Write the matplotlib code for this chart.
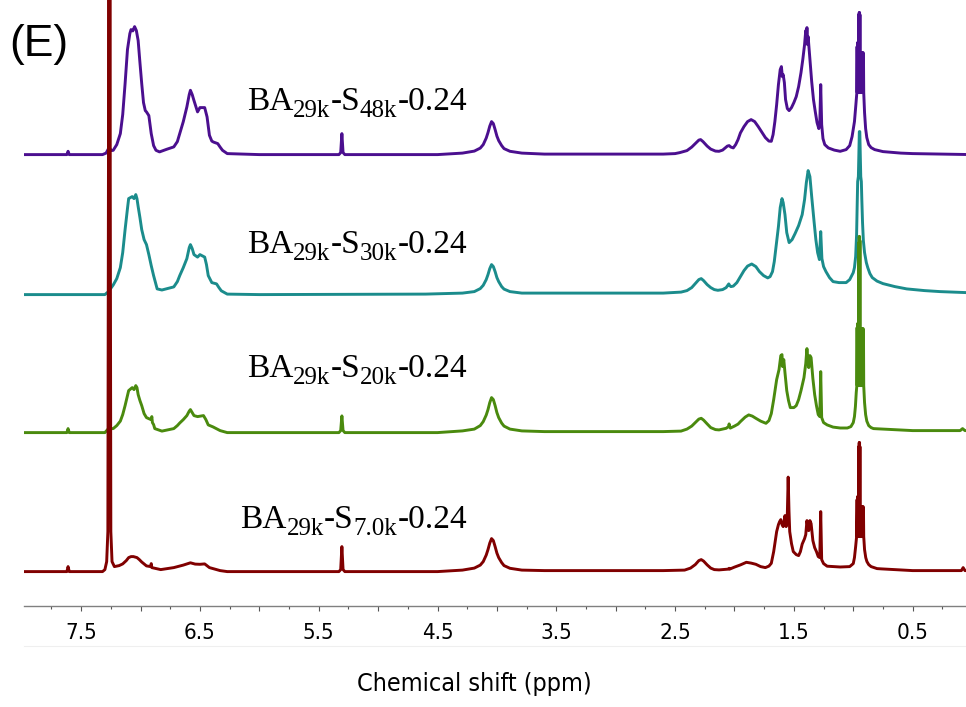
import matplotlib
matplotlib.use("Agg")
import matplotlib.pyplot as plt
from matplotlib.transforms import IdentityTransform
from matplotlib.lines import Line2D

plt.rcParams["path.simplify"] = False

# ---------------- data: (ppm, height above the trace baseline) ----------------
purple_points = [
    (8.00, 0), (7.62, 0), (7.61, 3.3), (7.60, 0), (7.32, 0), (7.29, 1.5), (7.265, 7), (7.245, 4),
    (7.23, 4.3), (7.20, 10), (7.17, 21), (7.15, 40), (7.13, 71), (7.11, 105), (7.09, 121), (7.08, 125),
    (7.065, 123.7), (7.05, 128), (7.035, 124), (7.02, 114), (7.005, 92), (6.99, 71), (6.975, 52),
    (6.96, 44), (6.95, 42.7), (6.93, 39), (6.91, 21), (6.89, 9), (6.87, 4.3), (6.84, 2.7), (6.78, 5.3),
    (6.72, 7.7), (6.69, 13), (6.67, 21), (6.64, 33), (6.61, 47.7), (6.59, 60), (6.58, 64.3),
    (6.565, 60), (6.55, 54), (6.52, 42.7), (6.50, 47), (6.46, 47), (6.44, 37.7), (6.42, 19.3),
    (6.40, 13.5), (6.385, 12.5), (6.35, 11), (6.33, 7.5), (6.31, 4.3), (6.27, 1), (6.00, 0),
    (5.33, 0), (5.315, 2), (5.305, 21), (5.295, 2), (5.28, 0), (4.50, 0), (4.29, 1.5), (4.19, 3.5),
    (4.14, 6.5), (4.115, 10), (4.09, 16.5), (4.075, 22), (4.06, 28.5), (4.045, 33), (4.03, 31),
    (4.015, 25), (4.00, 18.5), (3.985, 14), (3.96, 9), (3.94, 6), (3.89, 3.3), (3.79, 1.5),
    (3.60, 0.5), (2.60, 0.5), (2.50, 1), (2.46, 2), (2.40, 4), (2.36, 7.5), (2.33, 11), (2.30, 14.5),
    (2.285, 15), (2.265, 13), (2.23, 8.5), (2.20, 5.5), (2.16, 3.5), (2.13, 3.3), (2.10, 4.5),
    (2.06, 8.5), (2.045, 9), (2.03, 7.5), (2.01, 6.7), (1.99, 10), (1.97, 15), (1.95, 21.7),
    (1.92, 28), (1.89, 33), (1.86, 35), (1.83, 33), (1.80, 28), (1.77, 22.5), (1.74, 17),
    (1.71, 13.5), (1.69, 13.3), (1.675, 20), (1.66, 33), (1.645, 50), (1.63, 70), (1.615, 85),
    (1.605, 88), (1.597, 78), (1.59, 80), (1.58, 72), (1.57, 55), (1.555, 46), (1.54, 44),
    (1.52, 47), (1.50, 52), (1.48, 58), (1.46, 68), (1.44, 82), (1.425, 95), (1.41, 110),
    (1.40, 124), (1.395, 112), (1.39, 127), (1.385, 110), (1.38, 118), (1.37, 103), (1.35, 73),
    (1.335, 55), (1.32, 43), (1.305, 32), (1.29, 26), (1.282, 30), (1.274, 70), (1.266, 30),
    (1.255, 16), (1.24, 10), (1.21, 6.7), (1.16, 4.5), (1.11, 3.3), (1.06, 5), (1.03, 9),
    (1.01, 18), (0.99, 33), (0.978, 50), (0.970, 62),
    (0.968, 108), (0.966, 62), (0.964, 112), (0.962, 62), (0.960, 110), (0.958, 62), (0.956, 112),
    (0.955, 62), (0.953, 140), (0.952, 62), (0.950, 142), (0.949, 62), (0.947, 142), (0.946, 62),
    (0.944, 140), (0.943, 62), (0.941, 102), (0.939, 62), (0.937, 100), (0.935, 62), (0.933, 102),
    (0.931, 62), (0.929, 100), (0.927, 62), (0.925, 102), (0.923, 62), (0.921, 100), (0.919, 62),
    (0.917, 102), (0.915, 62), (0.914, 98), (0.912, 62),
    (0.905, 42), (0.896, 26), (0.886, 17), (0.87, 10), (0.85, 7), (0.82, 5), (0.75, 3), (0.60, 1.5),
    (0.50, 1), (0.00, 0)]

teal_points = [
    (8.00, 0), (7.30, 0), (7.27, 3), (7.23, 9.6), (7.20, 16), (7.17, 27), (7.15, 42), (7.13, 65),
    (7.11, 86), (7.10, 96), (7.07, 98), (7.055, 96), (7.04, 100), (7.03, 96), (7.02, 88),
    (7.005, 77), (6.99, 65), (6.97, 55), (6.95, 50), (6.93, 40), (6.91, 29), (6.89, 19), (6.86, 5.7),
    (6.82, 4.6), (6.72, 7.7), (6.69, 13), (6.67, 19), (6.64, 27), (6.61, 36), (6.59, 47), (6.58, 50),
    (6.565, 46), (6.55, 40), (6.52, 37.5), (6.50, 40), (6.46, 37.5), (6.445, 30), (6.43, 19),
    (6.40, 12), (6.36, 10.7), (6.34, 7), (6.32, 3.8), (6.27, 0.5), (6.00, 0), (4.60, 0.5),
    (4.29, 1.5), (4.19, 3), (4.14, 6), (4.115, 9.3), (4.09, 15), (4.075, 20), (4.06, 26),
    (4.045, 30), (4.03, 28), (4.015, 23), (4.00, 17), (3.985, 13), (3.96, 8), (3.94, 5.5),
    (3.89, 3), (3.79, 1.5), (3.60, 1.5), (2.60, 1.5), (2.45, 2.5), (2.40, 4), (2.36, 7), (2.33, 11),
    (2.30, 15), (2.28, 16), (2.26, 14), (2.23, 10), (2.20, 7), (2.17, 5), (2.14, 4.3), (2.10, 5),
    (2.07, 7), (2.048, 10.7), (2.04, 9), (2.03, 8), (2.01, 8.5), (1.98, 12), (1.95, 18), (1.92, 24),
    (1.89, 28.5), (1.855, 30.6), (1.82, 28), (1.79, 23), (1.755, 19), (1.72, 16.7), (1.70, 18),
    (1.68, 23), (1.665, 33), (1.645, 53), (1.63, 68), (1.615, 87), (1.60, 96), (1.59, 92),
    (1.575, 80), (1.56, 62), (1.54, 52), (1.515, 55), (1.49, 61), (1.46, 69), (1.43, 80),
    (1.41, 95), (1.395, 112), (1.38, 124), (1.365, 118), (1.35, 98), (1.33, 73), (1.315, 55),
    (1.30, 42), (1.285, 35), (1.274, 63), (1.264, 36), (1.25, 28), (1.23, 23), (1.20, 17),
    (1.17, 13), (1.12, 12), (1.06, 12), (1.03, 15), (1.00, 22), (0.99, 27), (0.98, 38),
    (0.972, 60), (0.967, 90), (0.963, 113), (0.957, 118), (0.953, 140), (0.949, 163), (0.945, 163),
    (0.941, 140), (0.937, 118), (0.932, 113), (0.928, 95), (0.922, 72), (0.915, 54), (0.905, 42),
    (0.89, 32), (0.878, 27), (0.86, 21), (0.84, 17), (0.80, 13.5), (0.75, 11), (0.65, 8),
    (0.55, 5.7), (0.40, 4), (0.27, 3), (0.05, 2), (0.00, 2)]

green_points = [
    (8.00, 0), (7.62, 0), (7.61, 4), (7.60, 0), (7.30, 0), (7.27, 4), (7.23, 4), (7.20, 7),
    (7.17, 11.5), (7.15, 18), (7.13, 27), (7.11, 37), (7.10, 42), (7.07, 45), (7.055, 43), (7.04, 47),
    (7.03, 45), (7.02, 38), (7.005, 32), (6.99, 27), (6.97, 19), (6.95, 15), (6.92, 13.4), (6.91, 13),
    (6.905, 16), (6.90, 10), (6.89, 8), (6.88, 4), (6.82, 1.5), (6.72, 4), (6.69, 7), (6.67, 9.6),
    (6.64, 13), (6.61, 17), (6.59, 21.5), (6.58, 23), (6.565, 20), (6.55, 17), (6.52, 16),
    (6.47, 17), (6.45, 13), (6.43, 7.7), (6.39, 5.7), (6.33, 2), (6.27, 0), (5.33, 0), (5.315, 2),
    (5.305, 16.7), (5.295, 2), (5.28, 0), (4.50, 0), (4.29, 1.7), (4.19, 3.5), (4.14, 7),
    (4.115, 11), (4.09, 17.5), (4.075, 23), (4.06, 30), (4.045, 35), (4.03, 33), (4.015, 27),
    (4.00, 20), (3.985, 15), (3.96, 9.5), (3.94, 6.5), (3.89, 3.5), (3.79, 1.7), (3.60, 1),
    (2.60, 1), (2.45, 1.5), (2.40, 3.5), (2.36, 6.5), (2.33, 10), (2.30, 13.5), (2.28, 14.3),
    (2.26, 12.5), (2.23, 8.7), (2.20, 5), (2.16, 3), (2.13, 2.7), (2.07, 4.3), (2.05, 6),
    (2.045, 8.7), (2.04, 6), (2.035, 4.5), (2.00, 6.5), (1.97, 8.5), (1.95, 11), (1.91, 15.5),
    (1.88, 17.7), (1.85, 16.5), (1.82, 14.3), (1.78, 11.5), (1.735, 9.3), (1.71, 12), (1.69, 19),
    (1.67, 33), (1.645, 53), (1.625, 63), (1.61, 77), (1.60, 78), (1.595, 66), (1.585, 73),
    (1.575, 60), (1.56, 42), (1.545, 32), (1.53, 25), (1.50, 25), (1.48, 27), (1.46, 33),
    (1.44, 42), (1.415, 55), (1.40, 69), (1.39, 84), (1.38, 70), (1.375, 65), (1.365, 77),
    (1.355, 75), (1.34, 54), (1.325, 38), (1.31, 27), (1.295, 18), (1.282, 16), (1.274, 61),
    (1.266, 15), (1.25, 10), (1.22, 7.7), (1.17, 5.5), (1.11, 4.6), (1.05, 4.6), (1.02, 6),
    (1.00, 10), (0.99, 16), (0.982, 26), (0.975, 40), (0.970, 47),
    (0.968, 105), (0.966, 47), (0.964, 109), (0.962, 47), (0.960, 108), (0.958, 47), (0.956, 109),
    (0.955, 47), (0.953, 190), (0.952, 47), (0.950, 196), (0.949, 47), (0.947, 196), (0.946, 47),
    (0.944, 192), (0.943, 47), (0.941, 104), (0.939, 47), (0.937, 102), (0.935, 47), (0.933, 104),
    (0.931, 47), (0.929, 102), (0.927, 47), (0.925, 104), (0.923, 47), (0.921, 102), (0.919, 47),
    (0.917, 104), (0.915, 47), (0.914, 100), (0.912, 47),
    (0.905, 30), (0.896, 18), (0.886, 11.5), (0.87, 7), (0.85, 5), (0.83, 4), (0.50, 2),
    (0.10, 2), (0.08, 4), (0.06, 2), (0.00, 2)]

red_points = [
    (8.00, 0), (7.62, 0), (7.61, 5), (7.60, 0), (7.32, 0), (7.30, 2), (7.285, 10), (7.275, 40),
    (7.27, 400), (7.268, 1500), (7.257, 1500), (7.255, 400), (7.25, 40), (7.24, 10), (7.22, 5),
    (7.18, 6), (7.15, 7.7), (7.12, 11), (7.10, 14), (7.08, 15), (7.06, 15), (7.03, 14), (7.01, 12),
    (6.99, 9.6), (6.95, 5.7), (6.915, 5), (6.91, 8), (6.905, 4), (6.83, 2), (6.72, 4), (6.64, 6.5),
    (6.58, 8.8), (6.54, 7.5), (6.50, 7.3), (6.46, 7.7), (6.42, 4), (6.33, 1), (6.27, 0), (5.33, 0),
    (5.315, 2), (5.305, 25), (5.295, 2), (5.28, 0), (4.50, 0), (4.29, 1.5), (4.19, 3.5),
    (4.14, 6.5), (4.115, 10), (4.09, 16.5), (4.075, 22), (4.06, 28.5), (4.045, 33), (4.03, 31),
    (4.015, 25), (4.00, 18.5), (3.985, 14), (3.96, 9), (3.94, 6), (3.89, 3.3), (3.79, 1.5),
    (3.60, 1), (2.60, 1), (2.42, 1.5), (2.37, 3.5), (2.33, 7), (2.30, 11), (2.28, 12),
    (2.26, 10.5), (2.23, 6.7), (2.20, 3.5), (2.17, 2), (2.13, 1.7), (2.05, 2.5), (2.045, 3.3),
    (2.04, 2.5), (2.00, 4.5), (1.95, 6.7), (1.90, 9.3), (1.86, 8.5), (1.82, 7.3), (1.78, 5),
    (1.74, 4), (1.71, 5.5), (1.69, 8.3), (1.67, 20), (1.645, 40), (1.63, 47), (1.62, 50),
    (1.61, 52), (1.60, 47), (1.59, 45), (1.58, 52), (1.575, 56), (1.565, 45), (1.555, 58),
    (1.548, 94.5), (1.541, 60), (1.535, 40), (1.52, 28), (1.505, 20), (1.48, 17), (1.46, 16),
    (1.445, 20), (1.43, 27.5), (1.41, 33), (1.40, 37), (1.39, 51), (1.38, 42), (1.375, 41),
    (1.365, 51), (1.355, 48), (1.34, 31), (1.325, 24), (1.31, 20), (1.295, 15), (1.282, 14),
    (1.274, 60), (1.266, 12), (1.25, 8), (1.22, 5.4), (1.11, 4.6), (1.03, 5), (1.00, 8),
    (0.99, 14), (0.98, 25), (0.972, 35),
    (0.968, 72), (0.966, 35), (0.964, 75), (0.962, 35), (0.960, 74), (0.958, 35), (0.956, 75),
    (0.955, 35), (0.953, 125), (0.952, 35), (0.950, 129), (0.949, 35), (0.947, 129), (0.946, 35),
    (0.944, 125), (0.943, 35), (0.941, 65), (0.939, 35), (0.937, 64), (0.935, 35), (0.933, 65),
    (0.931, 35), (0.929, 64), (0.927, 35), (0.925, 65), (0.923, 35), (0.921, 64), (0.919, 35),
    (0.917, 65), (0.915, 35), (0.914, 62), (0.912, 35),
    (0.905, 22), (0.895, 14), (0.885, 10), (0.87, 7), (0.85, 5), (0.80, 3), (0.76, 2.7),
    (0.50, 1), (0.09, 1), (0.075, 4), (0.06, 1), (0.00, 1)]

trace_offsets = [451, 311, 173, 34]
trace_colors = ["#4b0f8f", "#1b8c8c", "#4a8a0e", "#800000"]

label_prefix = "BA"
label_sub_a = "29k"
label_mid = "-S"
label_sub_b = ["48k", "30k", "20k", "7.0k"]
label_suffix = "-0.24"
label_baselines_px = [110, 253, 377, 528]

tick_positions = [7.5, 7.0, 6.5, 6.0, 5.5, 5.0, 4.5, 4.0, 3.5, 3.0, 2.5, 2.0, 1.5, 1.0, 0.5]
tick_labels = ["7.5", "", "6.5", "", "5.5", "", "4.5", "", "3.5", "", "2.5", "", "1.5", "", "0.5"]
minor_positions = [7.75, 7.25, 6.75, 6.25, 5.75, 5.25, 4.75, 4.25, 3.75, 3.25, 2.75, 2.25,
                   1.75, 1.25, 0.75, 0.25]

panel_tag = "(E)"
x_title = "Chemical shift (ppm)"

# ---------------- figure ----------------
W, H = 966, 707
fig = plt.figure(figsize=(W / 100, H / 100), dpi=100)
axis_y_px = 605.6
ax = fig.add_axes([24 / W, 1 - axis_y_px / H, 1 - 24 / W, axis_y_px / H])
ax.set_xlim(7.981, 0.051)
ax.set_ylim(0, axis_y_px)

traces = [purple_points, teal_points, green_points, red_points]
for pts, off, col in zip(traces, trace_offsets, trace_colors):
    ppm = [p for p, _ in pts]
    inten = [off + v for _, v in pts]
    ax.plot(ppm, inten, color=col, lw=2.1, solid_joinstyle="round", solid_capstyle="round")

for s in ["left", "right", "top"]:
    ax.spines[s].set_visible(False)
ax.spines["bottom"].set_color("#808080")
ax.spines["bottom"].set_linewidth(1.0)
ax.set_yticks([])
ax.set_xticks(tick_positions)
ax.set_xticklabels(tick_labels)
ax.set_xticks(minor_positions, minor=True)
ax.tick_params(axis="x", which="major", length=3.8, width=0.8, color="#555555",
               pad=9.0, labelsize=16, labelcolor="black")
ax.tick_params(axis="x", which="minor", length=2.2, width=0.8, color="#555555")
for t in ax.get_xticklabels():
    t.set_fontfamily("DejaVu Sans")
    t.set_fontstretch("condensed")
ax.patch.set_alpha(0)

# faint frame line under tick labels
fig.add_artist(Line2D([24 / W, 1], [1 - 646 / H, 1 - 646 / H], transform=fig.transFigure,
                      color="#efefef", lw=0.8))

fig.text(474 / W, 1 - 691 / H, x_title, ha="center", va="baseline", fontsize=18,
         family="DejaVu Sans", fontstretch="condensed", color="black")
fig.text(9 / W, 1 - 56 / H, panel_tag, ha="left", va="baseline", fontsize=32,
         family="Liberation Sans", color="black")

# ---------------- sample labels with real subscripts ----------------
renderer = fig.canvas.get_renderer()
main_size, sub_size, sub_drop = 24, 18, 7
right_px = 467
for sb, base in zip(label_sub_b, label_baselines_px):
    pieces = [(label_prefix, False), (label_sub_a, True), (label_mid, False), (sb, True),
              (label_suffix, False)]
    texts = []
    widths = []
    for s, sub in pieces:
        t = fig.text(0, 0, s, fontsize=sub_size if sub else main_size, family="Liberation Serif",
                     transform=IdentityTransform(), ha="left", va="baseline", color="black")
        widths.append(t.get_window_extent(renderer).width)
        texts.append((t, sub))
    x = right_px - sum(widths)
    for (t, sub), w in zip(texts, widths):
        t.set_position((x, H - base - (sub_drop if sub else 0)))
        x += w

fig.savefig("out.png", dpi=100)
